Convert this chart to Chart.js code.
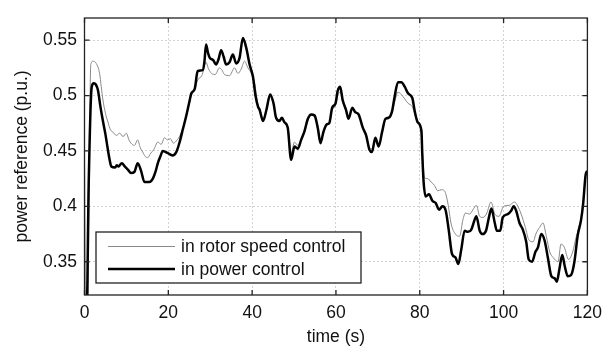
<!DOCTYPE html>
<html>
<head>
<meta charset="utf-8">
<script src="https://cdn.jsdelivr.net/npm/chart.js@4/dist/chart.umd.min.js"></script>
<style>
  body { margin: 0; background: #fff; }
</style>
</head>
<body>
<canvas id="myChart" width="610" height="349"></canvas>
<script>
// power reference traces
const powerTime = [0, 0.5, 1.0, 1.7, 2.2, 2.7, 3.2, 3.8, 4.3, 5.0, 5.5, 6.0, 6.4, 7.3, 7.7, 8.1, 8.9, 9.6, 10.4, 11.1, 11.9, 12.7, 13.5, 14.3, 15.5, 16.3, 17.0, 17.5, 18.1, 18.7, 19.9, 21.0, 21.9, 22.7, 23.5, 24.3, 25.0, 25.5, 26.3, 27.0, 28.2, 28.6, 29.0, 29.5, 29.9, 30.7, 31.4, 32.0, 32.6, 33.2, 33.8, 34.6, 35.4, 36.2, 37.0, 37.8, 38.6, 39.4, 40.2, 40.8, 41.4, 41.8, 42.6, 43.4, 44.3, 45.1, 45.7, 46.5, 47.1, 47.7, 48.5, 49.3, 50.1, 50.9, 51.7, 52.5, 53.3, 54.1, 54.9, 55.7, 56.3, 57.0, 57.8, 58.4, 59.1, 59.9, 60.4, 61.0, 61.6, 62.4, 63.0, 63.9, 64.6, 65.4, 66.4, 67.2, 68.0, 68.6, 69.4, 70.2, 71.0, 71.8, 72.6, 73.4, 74.0, 74.8, 75.6, 76.4, 77.2, 78.2, 78.9, 79.5, 80.4, 80.6, 80.9, 81.4, 82.2, 83.0, 83.8, 84.6, 85.4, 86.2, 86.9, 87.7, 88.5, 89.2, 89.9, 90.7, 91.5, 92.3, 93.1, 93.5, 94.3, 95.0, 95.8, 96.5, 97.1, 97.9, 98.4, 99.2, 99.8, 101.0, 101.8, 102.4, 103.0, 103.8, 104.6, 105.4, 106.0, 106.8, 107.6, 108.2, 109.0, 109.8, 110.6, 111.4, 112.2, 112.7, 113.3, 114.0, 114.6, 115.3, 116.1, 116.9, 117.7, 118.5, 119.0, 119.6, 120.0];
const powerCtrl = [0.30, 0.30, 0.42, 0.507, 0.511, 0.510, 0.505, 0.490, 0.479, 0.465, 0.453, 0.442, 0.436, 0.435, 0.437, 0.436, 0.439, 0.436, 0.433, 0.430, 0.431, 0.439, 0.432, 0.422, 0.422, 0.425, 0.432, 0.439, 0.445, 0.450, 0.448, 0.446, 0.449, 0.458, 0.470, 0.482, 0.494, 0.502, 0.506, 0.522, 0.523, 0.530, 0.546, 0.538, 0.534, 0.532, 0.528, 0.533, 0.541, 0.535, 0.528, 0.530, 0.537, 0.529, 0.534, 0.552, 0.543, 0.528, 0.517, 0.500, 0.490, 0.487, 0.477, 0.487, 0.501, 0.493, 0.480, 0.477, 0.480, 0.476, 0.471, 0.442, 0.454, 0.452, 0.460, 0.468, 0.479, 0.483, 0.482, 0.470, 0.457, 0.467, 0.474, 0.475, 0.489, 0.493, 0.504, 0.508, 0.496, 0.487, 0.479, 0.489, 0.485, 0.483, 0.471, 0.464, 0.451, 0.449, 0.462, 0.454, 0.467, 0.479, 0.480, 0.486, 0.499, 0.512, 0.512, 0.508, 0.502, 0.498, 0.484, 0.476, 0.468, 0.447, 0.423, 0.409, 0.411, 0.405, 0.403, 0.397, 0.400, 0.396, 0.379, 0.357, 0.354, 0.348, 0.361, 0.378, 0.377, 0.379, 0.388, 0.391, 0.378, 0.375, 0.378, 0.390, 0.398, 0.385, 0.378, 0.378, 0.390, 0.393, 0.396, 0.400, 0.396, 0.385, 0.379, 0.368, 0.352, 0.350, 0.359, 0.363, 0.375, 0.369, 0.353, 0.337, 0.335, 0.332, 0.343, 0.356, 0.346, 0.337, 0.338, 0.350, 0.374, 0.388, 0.403, 0.429, 0.432];

const speedTime = [0, 0.3, 0.7, 1.5, 2.0, 2.8, 3.6, 4.0, 4.4, 5.0, 5.6, 6.2, 6.8, 7.6, 8.4, 9.2, 10.0, 10.6, 11.1, 11.9, 12.7, 13.3, 13.9, 14.5, 15.1, 15.8, 16.5, 17.5, 18.3, 19.1, 19.8, 20.5, 21.2, 21.9, 22.5, 23.1, 24.3, 25.5, 26.3, 27.0, 28.0, 29.0, 29.6, 30.3, 31.2, 32.2, 32.8, 33.4, 34.6, 35.8, 36.6, 37.4, 38.2, 39.0, 39.8, 40.6, 41.4, 41.8, 42.6, 43.4, 44.3, 45.1, 45.7, 46.5, 47.1, 47.7, 48.5, 49.3, 50.1, 50.9, 51.7, 52.5, 53.3, 54.1, 54.9, 55.7, 56.3, 57.0, 57.8, 58.4, 59.1, 59.9, 60.4, 61.0, 61.6, 62.4, 63.0, 63.9, 64.6, 65.4, 66.4, 67.2, 68.0, 68.6, 69.4, 70.2, 71.0, 71.8, 72.6, 73.4, 74.0, 74.8, 75.6, 76.4, 77.2, 78.2, 78.9, 79.5, 80.4, 80.8, 81.1, 81.9, 82.7, 83.5, 84.3, 85.1, 85.9, 86.7, 87.5, 88.5, 89.5, 90.3, 90.9, 91.9, 92.7, 93.5, 94.3, 95.1, 96.0, 97.0, 97.9, 98.9, 100.0, 101.4, 102.6, 103.4, 104.2, 105.2, 106.0, 107.0, 107.8, 108.6, 109.4, 110.2, 111.0, 111.8, 113.0, 113.7, 114.5, 115.5, 116.5, 117.3, 117.9, 118.5, 119.0, 119.6, 120.0];
const speedCtrl = [0.445, 0.30, 0.30, 0.528, 0.531, 0.529, 0.520, 0.508, 0.496, 0.484, 0.476, 0.469, 0.467, 0.464, 0.466, 0.463, 0.466, 0.460, 0.457, 0.455, 0.460, 0.453, 0.449, 0.445, 0.444, 0.448, 0.451, 0.458, 0.456, 0.462, 0.460, 0.461, 0.457, 0.459, 0.462, 0.467, 0.482, 0.500, 0.505, 0.514, 0.518, 0.530, 0.524, 0.520, 0.519, 0.525, 0.523, 0.519, 0.518, 0.525, 0.520, 0.524, 0.531, 0.525, 0.520, 0.511, 0.491, 0.488, 0.479, 0.487, 0.499, 0.492, 0.481, 0.478, 0.480, 0.476, 0.472, 0.448, 0.458, 0.455, 0.461, 0.468, 0.478, 0.482, 0.481, 0.471, 0.459, 0.466, 0.473, 0.475, 0.487, 0.491, 0.500, 0.503, 0.494, 0.487, 0.480, 0.488, 0.485, 0.482, 0.472, 0.465, 0.453, 0.452, 0.460, 0.455, 0.466, 0.478, 0.479, 0.485, 0.494, 0.503, 0.501, 0.497, 0.493, 0.490, 0.482, 0.475, 0.465, 0.440, 0.426, 0.425, 0.422, 0.419, 0.414, 0.415, 0.414, 0.403, 0.384, 0.375, 0.373, 0.388, 0.394, 0.393, 0.397, 0.401, 0.391, 0.390, 0.394, 0.404, 0.393, 0.391, 0.400, 0.401, 0.404, 0.400, 0.393, 0.381, 0.370, 0.368, 0.376, 0.381, 0.385, 0.373, 0.359, 0.354, 0.350, 0.366, 0.363, 0.352, 0.359, 0.372, 0.380, 0.390, 0.404, 0.429, 0.432];

const yTicks = [0.35, 0.4, 0.45, 0.5, 0.55];
const labels = ['in rotor speed control', 'in power control'];

const FONT = 'Liberation Sans, Arial, sans-serif';

// frame, inward tick marks and the legend box inside the plot
const framePlugin = {
    id: 'frame',
    afterDraw(chart) {
        const c = chart.ctx;
        const a = chart.chartArea;
        const xs = chart.scales.x, ys = chart.scales.y;
        c.save();
        c.strokeStyle = '#222';
        c.lineWidth = 1.3;
        c.strokeRect(a.left, a.top, a.right - a.left, a.bottom - a.top);
        c.beginPath();
        xs.ticks.forEach(t => {
            const px = xs.getPixelForValue(t.value);
            c.moveTo(px, a.bottom); c.lineTo(px, a.bottom - 5);
            c.moveTo(px, a.top); c.lineTo(px, a.top + 5);
        });
        ys.ticks.forEach(t => {
            const py = ys.getPixelForValue(t.value);
            c.moveTo(a.left, py); c.lineTo(a.left + 5, py);
            c.moveTo(a.right, py); c.lineTo(a.right - 5, py);
        });
        c.stroke();

        // legend
        const bx = 96, by = 232, bw = 265, bh = 51;
        c.fillStyle = '#fff';
        c.fillRect(bx, by, bw, bh);
        c.lineWidth = 1.3;
        c.strokeRect(bx, by, bw, bh);
        c.font = '17.5px ' + FONT;
        c.textBaseline = 'middle';
        chart.data.datasets.forEach((ds, i) => {
            const ly = by + 14.5 + i * 22.5;
            c.strokeStyle = ds.borderColor;
            c.lineWidth = ds.borderWidth;
            c.beginPath();
            c.moveTo(108, ly); c.lineTo(175, ly);
            c.stroke();
            c.fillStyle = '#111';
            c.fillText(ds.label, 181, ly + 1);
        });
        c.restore();
    }
};

const ctx = document.getElementById('myChart').getContext('2d');

const myChart = new Chart(ctx, {
    type: 'line',
    data: {
        datasets: [{
            label: labels[0],
            data: speedTime.map((t, i) => ({x: t, y: speedCtrl[i]})),
            borderColor: '#8a8a8a',
            borderWidth: 1,
            pointRadius: 0,
            cubicInterpolationMode: 'monotone',
            order: 1,
            clip: 0
        }, {
            label: labels[1],
            data: powerTime.map((t, i) => ({x: t, y: powerCtrl[i]})),
            borderColor: '#000',
            borderWidth: 2.5,
            pointRadius: 0,
            cubicInterpolationMode: 'monotone',
            order: 0,
            clip: 0
        }]
    },
    options: {
        responsive: false,
        maintainAspectRatio: false,
        animation: false,
        layout: {padding: {top: 9, right: 22, left: 0, bottom: 0}},
        scales: {
            x: {
                type: 'linear',
                min: 0,
                max: 120,
                afterFit: s => { s.height = 54; },
                ticks: {
                    stepSize: 20,
                    padding: 8,
                    maxRotation: 0,
                    color: '#111',
                    font: {family: FONT, size: 17.5}
                },
                grid: {color: '#d2d2d2', lineWidth: 1, drawTicks: false},
                border: {display: false, dash: [2, 2]},
                title: {
                    display: true,
                    text: 'time (s)',
                    color: '#111',
                    font: {family: FONT, size: 17.5},
                    padding: {top: 0, bottom: 1.5}
                }
            },
            y: {
                min: 0.32,
                max: 0.57,
                afterFit: s => { s.width = 84.5; },
                afterBuildTicks: s => { s.ticks = yTicks.map(v => ({value: v})); },
                ticks: {
                    padding: 7.5,
                    autoSkip: false,
                    color: '#111',
                    font: {family: FONT, size: 17.5},
                    callback: v => String(+v.toFixed(2))
                },
                grid: {color: '#d2d2d2', lineWidth: 1, drawTicks: false},
                border: {display: false, dash: [2, 2]},
                title: {
                    display: true,
                    text: 'power reference (p.u.)',
                    color: '#111',
                    font: {family: FONT, size: 17.5},
                    padding: {top: 11.5, bottom: 0}
                }
            }
        },
        plugins: {
            legend: {display: false},
            tooltip: {enabled: false}
        }
    },
    plugins: [framePlugin]
});
</script>
</body>
</html>
